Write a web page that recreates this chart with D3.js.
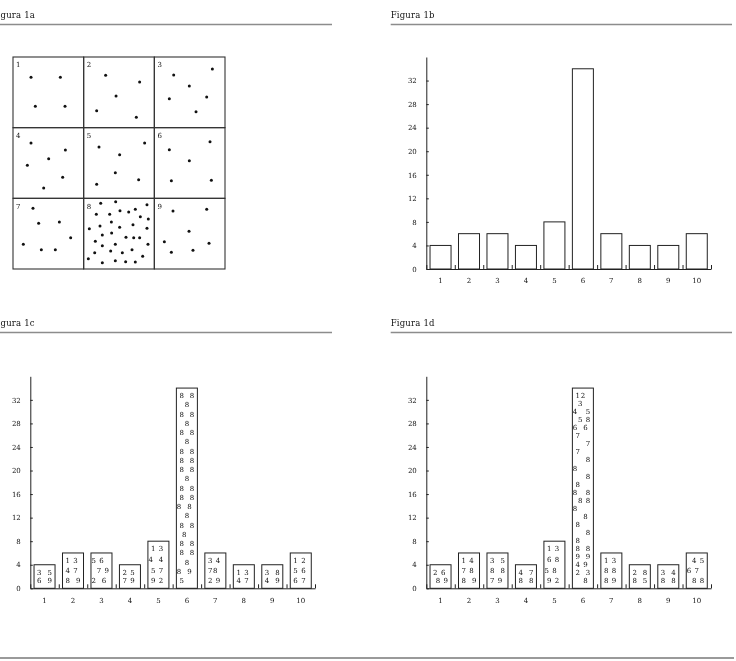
<!DOCTYPE html>
<html>
<head>
<meta charset="utf-8">
<script src="https://cdn.jsdelivr.net/npm/d3@7"></script>
<style>
  body { margin: 0; background: #fff; }
  svg { filter: grayscale(1); }
  text { font-family: "DejaVu Serif", serif; fill: #111; }
</style>
</head>
<body>
<div id="fig"></div>
<script>
var titles = ["Figura 1a", "Figura 1b", "Figura 1c", "Figura 1d"];
var bins = ["1", "2", "3", "4", "5", "6", "7", "8", "9", "10"];
var counts = [4, 6, 6, 4, 8, 34, 6, 4, 4, 6];
var yTicks = [0, 4, 8, 12, 16, 20, 24, 28, 32];
var cellNames = ["1", "2", "3", "4", "5", "6", "7", "8", "9"];

// points of each cell, in cell units (0..1)
var cellDots = [
  [[0.255, 0.288], [0.670, 0.288], [0.316, 0.698], [0.736, 0.698]],
  [[0.311, 0.259], [0.792, 0.354], [0.458, 0.552], [0.184, 0.759], [0.745, 0.854]],
  [[0.274, 0.255], [0.821, 0.170], [0.495, 0.410], [0.212, 0.590], [0.741, 0.566], [0.590, 0.774]],
  [[0.255, 0.217], [0.741, 0.316], [0.505, 0.439], [0.203, 0.533], [0.703, 0.703], [0.434, 0.854]],
  [[0.217, 0.274], [0.863, 0.217], [0.509, 0.382], [0.448, 0.637], [0.778, 0.736], [0.184, 0.802]],
  [[0.212, 0.311], [0.788, 0.198], [0.495, 0.467], [0.241, 0.750], [0.807, 0.745]],
  [[0.283, 0.142], [0.363, 0.354], [0.656, 0.335], [0.816, 0.557], [0.146, 0.651], [0.401, 0.726], [0.599, 0.726]],
  [[0.241, 0.071], [0.453, 0.047], [0.896, 0.090],
   [0.179, 0.226], [0.368, 0.226], [0.514, 0.175], [0.637, 0.193], [0.731, 0.156], [0.802, 0.259], [0.915, 0.292],
   [0.080, 0.429], [0.231, 0.392], [0.392, 0.335], [0.509, 0.410], [0.698, 0.373], [0.896, 0.425],
   [0.264, 0.519], [0.396, 0.491], [0.599, 0.552], [0.708, 0.557], [0.792, 0.557],
   [0.165, 0.608], [0.264, 0.670], [0.448, 0.651], [0.910, 0.651],
   [0.156, 0.769], [0.382, 0.745], [0.547, 0.769], [0.684, 0.726], [0.835, 0.821],
   [0.066, 0.854], [0.264, 0.910], [0.448, 0.882], [0.594, 0.896], [0.731, 0.901]],
  [[0.264, 0.179], [0.741, 0.156], [0.491, 0.467], [0.142, 0.613], [0.774, 0.637], [0.241, 0.764], [0.547, 0.736]]
];

// cell numbers written inside each bar, row by row (as they read)
var leavesC = [
  [" 3   5 ", " 6   9 "],
  [" 1  3  ", " 4  7  ", " 8   9 "],
  ["5  6   ", "  7  9 ", "2   6  "],
  [" 2  5  ", " 7  9  "],
  [" 1  3  ", "4   4  ", " 5  7  ", " 9  2  "],
  [" 8   8 ", "   8   ", " 8   8 ", "   8   ", " 8   8 ", "   8   ", " 8   8 ",
   " 8   8 ", " 8   8 ", "   8   ", " 8   8 ", " 8   8 ", "8   8  ", "   8   ",
   " 8   8 ", "  8    ", " 8   8 ", " 8   8 ", "   8   ", "8   9  ", " 5     "],
  [" 3  4  ", " 7 8   ", " 2  9  "],
  [" 1  3  ", " 4  7  "],
  [" 3   8 ", " 4   9 "],
  [" 1  2  ", " 5  6  ", " 6  7  "]
];
var leavesD = [
  [" 2  6  ", "  8  9 "],
  [" 1  4  ", " 7  8  ", " 8   9 "],
  [" 3   5 ", " 8   8 ", " 7  9  "],
  [" 4   7 ", " 8   8 "],
  [" 1  3  ", " 6  8  ", "5  8   ", " 9  2  "],
  [" 1 2   ", "  3    ", "4    5 ", "  5  8 ", "6   6  ", " 7     ", "     7 ", " 7     ",
   "     8 ", "8      ", "     8 ", " 8     ", "8    8 ", "  8  8 ", "8      ", "    8  ",
   " 8     ", "     8 ", " 8     ", " 8   8 ", " 9   9 ", " 4  9  ", " 2   3 ", "    8  "],
  [" 1  3  ", " 8  8  ", " 8  9  "],
  [" 2   8 ", " 8   5 "],
  [" 3   4 ", " 8   8 "],
  ["  4  5 ", "6  7   ", "  8  8 "]
];

var width = 736, height = 661;
var svg = d3.select("#fig").append("svg")
  .attr("width", width)
  .attr("height", height);

// headers
var heads = [[-8.5, 0, 332], [390.7, 390.7, 732], [-8.5, 0, 332], [390.7, 390.7, 732]];
titles.forEach(function(t, i) {
  var ty = i < 2 ? 0 : 308;
  svg.append("text")
    .attr("x", heads[i][0])
    .attr("y", 18 + ty)
    .style("font-size", "8.5px")
    .style("letter-spacing", "0.2px")
    .text(t);
  svg.append("line")
    .attr("x1", heads[i][1]).attr("x2", heads[i][2])
    .attr("y1", 24.5 + ty).attr("y2", 24.5 + ty)
    .attr("stroke", "#8c8c8c")
    .attr("stroke-width", 1.6);
});
svg.append("line")
  .attr("x1", 0).attr("x2", 734)
  .attr("y1", 658).attr("y2", 658)
  .attr("stroke", "#9a9a9a")
  .attr("stroke-width", 2);

// Figura 1a : grid of cells with points
function drawGrid() {
  var gx = d3.scaleLinear().domain([0, 3]).range([13, 225]);
  var gy = d3.scaleLinear().domain([0, 3]).range([57, 269]);
  var g = svg.append("g");
  cellNames.forEach(function(name, i) {
    var c = i % 3, r = Math.floor(i / 3);
    g.append("rect")
      .attr("x", gx(c)).attr("y", gy(r))
      .attr("width", gx(c + 1) - gx(c))
      .attr("height", gy(r + 1) - gy(r))
      .attr("fill", "none")
      .attr("stroke", "#333")
      .attr("stroke-width", 1.1);
    g.append("text")
      .attr("x", gx(c) + 5.3)
      .attr("y", gy(r) + 8)
      .attr("dy", "0.35em")
      .attr("text-anchor", "middle")
      .style("font-size", "7px")
      .text(name);
    g.selectAll(null)
      .data(cellDots[i])
      .enter().append("circle")
      .attr("cx", function(d) { return gx(c + d[0]); })
      .attr("cy", function(d) { return gy(r + d[1]); })
      .attr("r", 1.5)
      .attr("fill", "#111");
  });
}

function drawHist(x0, base, leaves) {
  var g = svg.append("g");
  var span = 284.7;
  var x = d3.scaleBand().domain(bins).range([x0, x0 + span])
    .paddingInner(0.262).paddingOuter(0.131);
  var xb = d3.scaleLinear().domain([0, bins.length]).range([x0, x0 + span]);
  var y = d3.scaleLinear().domain([0, 36]).range([base, base - 212]);

  g.selectAll("rect")
    .data(counts)
    .enter().append("rect")
    .attr("x", function(d, i) { return x(bins[i]); })
    .attr("y", function(d) { return y(d); })
    .attr("width", x.bandwidth())
    .attr("height", function(d) { return y(0) - y(d); })
    .attr("fill", "#fff")
    .attr("stroke", "#222")
    .attr("stroke-width", 1);

  var ya = g.append("g")
    .attr("transform", "translate(" + x0 + ",0)")
    .call(d3.axisLeft(y).tickValues(yTicks).tickSize(-2.5).tickSizeOuter(0).tickPadding(9.5));
  var xa = g.append("g")
    .attr("transform", "translate(0," + base + ")")
    .call(d3.axisBottom(xb).ticks(10).tickSize(-4).tickSizeOuter(0).tickFormat(""));
  [ya, xa].forEach(function(a) {
    a.selectAll("path, line").attr("stroke", "#222").attr("stroke-width", 1);
    a.selectAll("text").style("font-size", "7px").style("font-family", "DejaVu Serif, serif").attr("fill", "#111");
  });

  g.selectAll(".xl")
    .data(bins)
    .enter().append("text")
    .attr("class", "xl")
    .attr("x", function(d) { return x(d) + x.bandwidth() / 2; })
    .attr("y", base + 12)
    .attr("dy", "0.35em")
    .attr("text-anchor", "middle")
    .style("font-size", "7px")
    .text(function(d) { return d; });

  if (!leaves) return;
  leaves.forEach(function(rows, i) {
    var top = y(counts[i]) + 7.5, bot = y(0) - 7.5;
    var cx = x(bins[i]) + x.bandwidth() / 2;
    var n = rows.length;
    rows.forEach(function(row, k) {
      var yy = n > 1 ? top + k * (bot - top) / (n - 1) : (top + bot) / 2;
      row.split("").forEach(function(ch, j) {
        if (ch === " ") return;
        g.append("text")
          .attr("x", cx + (j - 3) * 2.6)
          .attr("y", yy)
          .attr("dy", "0.35em")
          .attr("text-anchor", "middle")
          .style("font-size", "7px")
          .text(ch);
      });
    });
  });
}

drawGrid();
drawHist(426.3, 269, null);
drawHist(30.3, 588.3, leavesC);
drawHist(426.3, 588.3, leavesD);
</script>
</body>
</html>
